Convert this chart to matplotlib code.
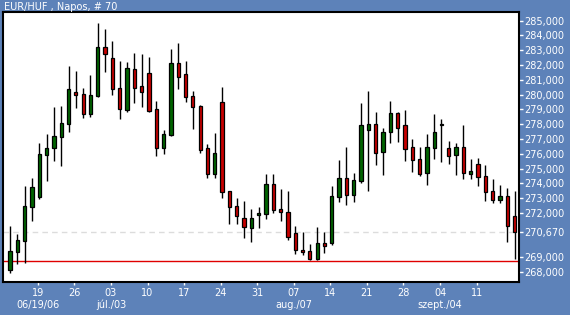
import matplotlib
matplotlib.use("Agg")
import matplotlib.pyplot as plt
import matplotlib.transforms as mtransforms
import numpy as np
import pandas as pd

# EUR/HUF daily candles, 70 sessions from 2006-06-13
opens = [268.16, 269.37, 270.12, 272.42, 273.09, 275.94, 276.41, 277.15, 278.03, 280.17,
         280.04, 278.71, 279.90, 283.22, 282.47, 280.42, 278.98, 281.73, 280.58, 281.46,
         279.02, 276.41, 277.29, 282.14, 281.39, 279.90, 279.23, 276.39, 274.65, 279.50,
         273.48, 272.46, 271.65, 271.00, 271.83, 271.94, 273.95, 272.26, 272.06, 270.64,
         269.49, 269.42, 268.90, 269.96, 269.98, 273.09, 274.36, 273.23, 274.18, 277.63,
         278.01, 276.14, 277.49, 278.75, 277.94, 276.45, 275.64, 274.72, 276.41, 277.94,
         276.39, 275.94, 276.45, 274.65, 275.30, 274.49, 273.48, 272.89, 273.14, 271.79]
highs = [271.11, 270.57, 273.82, 274.36, 276.72, 277.33, 279.16, 279.23, 281.93, 281.60,
         280.45, 281.32, 284.84, 284.44, 283.62, 282.27, 282.20, 282.81, 282.75, 282.54,
         279.59, 277.60, 283.08, 283.49, 282.27, 280.24, 279.30, 276.66, 277.40, 280.51,
         273.50, 273.00, 272.80, 272.26, 272.40, 274.63, 274.63, 273.61, 273.48, 271.11,
         270.73, 269.89, 271.04, 270.70, 273.82, 275.57, 276.48, 274.70, 279.43, 280.26,
         278.82, 277.74, 279.57, 278.82, 278.96, 277.00, 276.45, 277.33, 278.69, 278.35,
         276.86, 276.72, 277.94, 275.67, 275.71, 275.24, 274.29, 273.90, 273.68, 273.48]
lows = [267.95, 268.54, 268.63, 271.47, 272.96, 274.18, 275.53, 275.19, 277.49, 279.11,
        278.44, 278.51, 279.86, 281.55, 279.99, 278.37, 278.84, 279.45, 279.18, 278.84,
        275.87, 276.00, 277.22, 280.40, 279.52, 277.69, 276.07, 274.38, 274.38, 273.03,
        271.27, 271.27, 270.30, 270.05, 271.00, 271.61, 272.01, 271.47, 270.19, 269.24,
        269.17, 268.81, 268.79, 269.28, 269.85, 272.76, 272.53, 272.76, 274.04, 273.50,
        275.26, 274.58, 276.75, 276.81, 275.53, 274.79, 274.52, 273.91, 275.67, 275.46,
        275.33, 274.58, 274.31, 274.31, 273.84, 272.82, 272.69, 272.69, 270.05, 268.90]
closes = [269.42, 270.16, 272.46, 273.75, 275.98, 276.39, 277.20, 278.08, 280.38, 279.99,
          278.71, 279.97, 283.22, 282.77, 280.40, 279.05, 281.80, 280.47, 280.20, 278.91,
          276.41, 277.33, 282.14, 281.21, 279.86, 279.18, 276.27, 274.65, 276.05, 273.43,
          272.42, 271.81, 271.07, 271.65, 271.99, 273.95, 272.22, 272.08, 270.39, 269.51,
          269.37, 268.90, 269.96, 269.78, 273.14, 274.36, 273.23, 274.22, 277.94, 278.01,
          276.07, 277.47, 278.75, 277.76, 276.34, 275.60, 274.65, 276.45, 277.47, 277.94,
          275.87, 276.45, 274.72, 274.83, 274.45, 273.43, 272.89, 273.14, 271.13, 270.67]
support = 268.72
dates = pd.bdate_range("2006-06-13", periods=len(closes))
hu_months = {6: "jún.", 7: "júl.", 8: "aug.", 9: "szept."}

bg = "#5d82b9"
green = "#006400"
red = "#c80000"

fig = plt.figure(figsize=(5.7, 3.15), dpi=100, facecolor=bg)
ax = fig.add_axes([3 / 570, 33 / 315, 516 / 570, 270 / 315])
ax.set_facecolor("white")

x = np.arange(len(closes))
o = np.array(opens); c = np.array(closes)
cols = [green if cc >= oo else red for oo, cc in zip(o, c)]

ax.vlines(x, lows, highs, color="black", lw=1.0, zorder=2)
ax.bar(x, np.maximum(np.abs(c - o), 0.06), bottom=np.minimum(o, c), width=0.45,
       color=cols, edgecolor="black", linewidth=0.9, zorder=3)

last = closes[-1]
ax.axhline(last, color="#dcdcdc", lw=1, ls=(0, (4, 3)), zorder=1)
ax.axhline(support, color="#e00000", lw=1, zorder=1)

ax.set_xlim(-0.96, 69.6)
ax.set_ylim(267.32, 285.59)

# y axis on the right
yt = [t for t in range(268, 286) if abs(t - last) >= 1] + [last]
ax.yaxis.tick_right()
ax.set_yticks(yt)
ax.set_yticklabels([f"{t:.3f}".replace(".", ",") for t in yt])
ax.tick_params(axis="y", colors="white", labelsize=7, length=3, width=1, pad=1)

# x axis: Mondays
mon = [i for i, d in enumerate(dates) if d.weekday() == 0 and i < len(dates) - 2]
tpos = [i - 0.2 for i in mon]
ax.set_xticks(tpos)
ax.set_xticklabels([dates[i].strftime("%d") for i in mon])
ax.tick_params(axis="x", colors="white", labelsize=7, length=2.5, width=1, pad=2)

trans = mtransforms.blended_transform_factory(ax.transData, fig.transFigure)
seen = set()
for i, p in zip(mon, tpos):
    d = dates[i]
    if d.month in seen:
        continue
    seen.add(d.month)
    lab = d.strftime("%m/%d/%y") if not seen - {d.month} else f"{hu_months[d.month]}/{d.day:02d}"
    ax.text(p, 5 / 315, lab, transform=trans, color="white", fontsize=7,
            ha="center", va="bottom")

for s in ax.spines.values():
    s.set_color("black")
    s.set_linewidth(1.5)

fig.text(4 / 570, 1 - 10.5 / 315, "EUR/HUF , Napos, # 70", color="white",
         fontsize=7, ha="left", va="baseline")

fig.savefig("out.png", dpi=100, facecolor=bg)
